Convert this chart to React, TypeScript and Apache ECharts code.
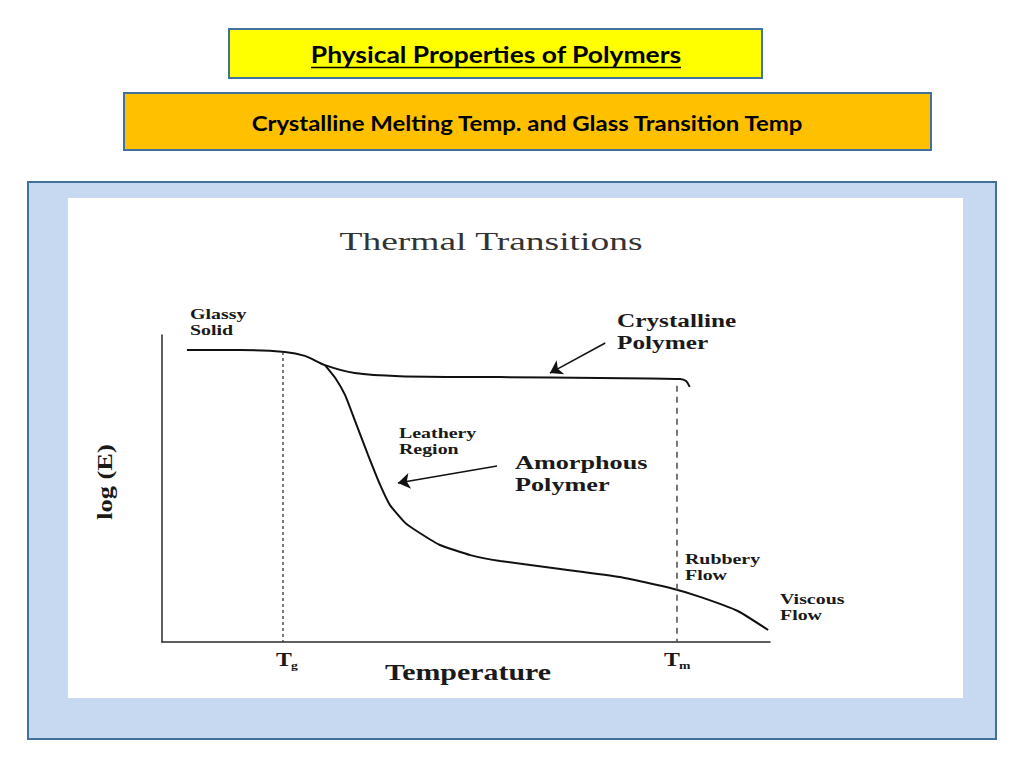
import React, { useEffect, useRef } from "react";
import * as echarts from "echarts";

// Curves (temperature in arbitrary units 0..100, log(E) in arbitrary units 0..100)
const crystallineX = [4.1, 12.8, 20.2, 23.5, 26.8, 31.7, 39.1, 55.6, 72.0, 85.2, 86.2, 86.8];
const crystallineY = [95.1, 95.1, 94.5, 93.2, 90.2, 87.6, 86.6, 86.3, 86.0, 85.7, 85.0, 83.1];
const amorphousX = [26.8, 28.5, 30.1, 31.7, 33.9, 35.9, 37.5, 40.0, 42.4, 45.7, 50.7, 55.6, 65.5, 75.3, 83.6, 88.5, 94.7, 99.7];
const amorphousY = [90.2, 86.0, 80.5, 72.3, 60.9, 51.1, 44.6, 38.8, 35.5, 31.6, 28.3, 26.4, 23.8, 21.2, 17.6, 14.7, 10.1, 3.9];
const tg = 19.9;
const tgTop = 94.5;
const tm = 84.7;
const tmTop = 83.5;
const crystallineArrow = [[72.9, 97.4], [63.8, 87.6]];
const amorphousArrow = [[55.1, 57.3], [38.8, 51.8]];

const pageTitle = "Physical Properties of Polymers";
const pageSubtitle = "Crystalline Melting Temp. and Glass Transition Temp";
const chartTitle = "Thermal Transitions";
const xName = "Temperature";
const yName = "log (E)";

const zip = (xs: number[], ys: number[]) => xs.map((x, i) => [x, ys[i]]);

const SERIF = "'Liberation Serif', 'Times New Roman', serif";
const SANS = "Lato, 'Open Sans', sans-serif";

export default function App() {
  const ref = useRef<HTMLDivElement>(null);
  useEffect(() => {
    if (!ref.current) return;
    const chart = echarts.init(ref.current, null, { renderer: "svg" });
    const ann = (text: string, x: number, y: number, size: number, lh: number, sx: number) => ({
      type: "text",
      x,
      y,
      scaleX: sx,
      z: 10,
      style: {
        text,
        fill: "#1a1a1a",
        font: `bold ${size}px ${SERIF}`,
        lineHeight: lh,
        textAlign: "left",
        textVerticalAlign: "top",
      },
    });
    chart.setOption({
      animation: false,
      backgroundColor: "#ffffff",
      grid: { left: 162, right: 254, top: 335, bottom: 126 },
      xAxis: {
        type: "value",
        min: 0,
        max: 100,
        axisLine: { show: true, lineStyle: { color: "#2a2a2a", width: 1.5 } },
        axisTick: { show: false },
        axisLabel: { show: false },
        splitLine: { show: false },
      },
      yAxis: {
        type: "value",
        min: 0,
        max: 100,
        axisLine: { show: true, lineStyle: { color: "#2a2a2a", width: 1.5 } },
        axisTick: { show: false },
        axisLabel: { show: false },
        splitLine: { show: false },
      },
      graphic: [
        { type: "rect", z: -10, shape: { x: 229, y: 29, width: 533, height: 49 }, style: { fill: "#ffff00", stroke: "#41719c", lineWidth: 2 } },
        { type: "text", z: -5, x: 496, y: 54, scaleX: 1.15, style: { text: pageTitle, font: `bold 23px ${SANS}`, fill: "#000", textAlign: "center", textVerticalAlign: "middle" } },
        { type: "line", z: -5, shape: { x1: 311, y1: 67.5, x2: 681, y2: 67.5 }, style: { stroke: "#000", lineWidth: 1.5 } },
        { type: "rect", z: -10, shape: { x: 124, y: 93, width: 807, height: 57 }, style: { fill: "#ffc000", stroke: "#41719c", lineWidth: 2 } },
        { type: "text", z: -5, x: 527, y: 123, scaleX: 1.14, style: { text: pageSubtitle, font: `bold 21px ${SANS}`, fill: "#000", textAlign: "center", textVerticalAlign: "middle" } },
        { type: "rect", z: -10, shape: { x: 28, y: 182, width: 968, height: 557 }, style: { fill: "#c6d9f1", stroke: "#41719c", lineWidth: 2 } },
        { type: "rect", z: -9, shape: { x: 68, y: 198, width: 895, height: 500 }, style: { fill: "#ffffff" } },
        { type: "text", z: 10, x: 491, y: 242, scaleX: 1.5, style: { text: chartTitle, font: `25px ${SERIF}`, fill: "#333", textAlign: "center", textVerticalAlign: "middle" } },
        { type: "text", z: 10, x: 468, y: 672, scaleX: 1.3, style: { text: xName, font: `bold 23px ${SERIF}`, fill: "#1a1a1a", textAlign: "center", textVerticalAlign: "middle" } },
        { type: "text", z: 10, x: 104, y: 482, rotation: Math.PI / 2, scaleX: 1.2, style: { text: yName, font: `bold 22px ${SERIF}`, fill: "#1a1a1a", textAlign: "center", textVerticalAlign: "middle" } },
        { type: "text", z: 10, x: 276, y: 650, scaleX: 1.25, style: { text: "T", font: `bold 19px ${SERIF}`, fill: "#1a1a1a", textAlign: "left", textVerticalAlign: "top" } },
        { type: "text", z: 10, x: 291, y: 660, scaleX: 1.25, style: { text: "g", font: `bold 11px ${SERIF}`, fill: "#1a1a1a", textAlign: "left", textVerticalAlign: "top" } },
        { type: "text", z: 10, x: 664, y: 650, scaleX: 1.25, style: { text: "T", font: `bold 19px ${SERIF}`, fill: "#1a1a1a", textAlign: "left", textVerticalAlign: "top" } },
        { type: "text", z: 10, x: 679, y: 660, scaleX: 1.25, style: { text: "m", font: `bold 11px ${SERIF}`, fill: "#1a1a1a", textAlign: "left", textVerticalAlign: "top" } },
        ann("Glassy\nSolid", 190, 307, 14, 16, 1.42),
        ann("Crystalline\nPolymer", 617, 310, 19, 22, 1.33),
        ann("Leathery\nRegion", 399, 426, 14, 16, 1.42),
        ann("Amorphous\nPolymer", 515, 452, 19, 22, 1.38),
        ann("Rubbery\nFlow", 685, 552, 14, 16, 1.42),
        ann("Viscous\nFlow", 780, 592, 14, 16, 1.42),
      ],
      series: [
        {
          name: "Crystalline Polymer",
          type: "line",
          data: zip(crystallineX, crystallineY),
          smooth: 0.3,
          showSymbol: false,
          symbol: "none",
          lineStyle: { color: "#111", width: 2 },
        },
        {
          name: "Amorphous Polymer",
          type: "line",
          data: zip(amorphousX, amorphousY),
          smooth: 0.15,
          showSymbol: false,
          symbol: "none",
          lineStyle: { color: "#111", width: 2 },
        },
        {
          name: "Tg",
          type: "line",
          data: [[tg, tgTop], [tg, 0]],
          symbol: "none",
          lineStyle: { color: "#333", width: 1.3, type: [3, 3] },
        },
        {
          name: "Tm",
          type: "line",
          data: [[tm, tmTop], [tm, 0]],
          symbol: "none",
          lineStyle: { color: "#555", width: 1.6, type: [6, 5] },
        },
        {
          name: "arrows",
          type: "lines",
          coordinateSystem: "cartesian2d",
          symbol: ["none", "arrow"],
          symbolSize: [0, 12],
          lineStyle: { color: "#111", width: 1.5, opacity: 1 },
          data: [{ coords: crystallineArrow }, { coords: amorphousArrow }],
        },
      ],
    });
    return () => chart.dispose();
  }, []);
  return <div ref={ref} style={{ position: "fixed", left: 0, top: 0, width: 1024, height: 768 }} />;
}
